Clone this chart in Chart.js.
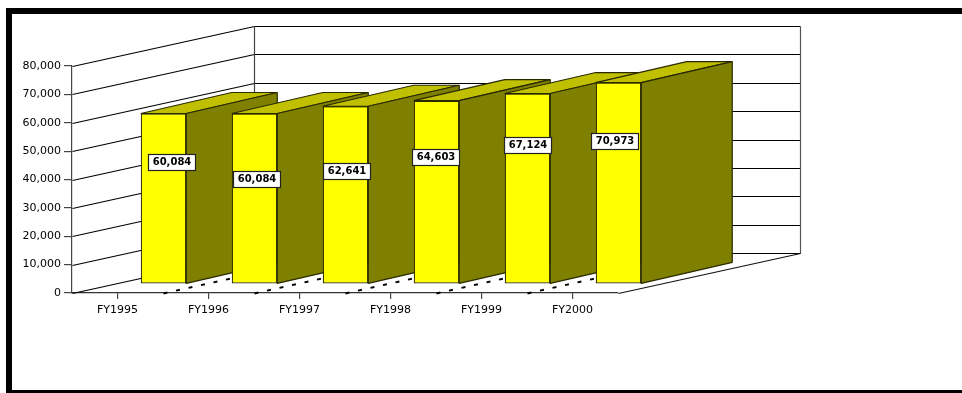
<!DOCTYPE html>
<html>
<head>
<meta charset="utf-8">
<style>html,body{margin:0;padding:0;background:#fff}canvas{display:block}</style>
<script src="https://cdn.jsdelivr.net/npm/chart.js@4/dist/chart.umd.min.js"></script>
</head>
<body>
<canvas id="chart" width="962" height="393"></canvas>
<script>
// Budget totals by fiscal year
const fiscalYears = ['FY1995', 'FY1996', 'FY1997', 'FY1998', 'FY1999', 'FY2000'];
const totals = [60084, 60084, 62641, 64603, 67124, 70973];
const axisTicks = [0, 10000, 20000, 30000, 40000, 50000, 60000, 70000, 80000];

// Oblique projection: how far the floor recedes, and where a bar sits on it
const FLOOR_DX = 182, FLOOR_DY = -40;
const BAR_DX = 46, BAR_DY = -9;
const BAR_DEPTH_DX = 91, BAR_DEPTH_DY = -21;
// Callout boxes relative to the top-centre of each bar's front face
const calloutOffsets = [[7.5, 48.5], [2, 65.5], [1, 64.7], [-1, 56.3], [-0.5, 51.4], [-4, 58.5]];

const EDGE = '#2a2a00';

function poly(ctx, pts, fill, stroke) {
  ctx.beginPath();
  pts.forEach((p, i) => i ? ctx.lineTo(p[0], p[1]) : ctx.moveTo(p[0], p[1]));
  ctx.closePath();
  if (fill) { ctx.fillStyle = fill; ctx.fill(); }
  if (stroke) { ctx.strokeStyle = stroke; ctx.lineWidth = 1.2; ctx.lineJoin = 'bevel'; ctx.stroke(); }
}
function line(ctx, x1, y1, x2, y2, color) {
  ctx.beginPath();
  ctx.moveTo(x1 + .5, y1 + .5);
  ctx.lineTo(x2 + .5, y2 + .5);
  ctx.strokeStyle = color;
  ctx.lineWidth = 1.2;
  ctx.stroke();
}

const frame = {
  id: 'frame',
  beforeDraw(chart) {
    const c = chart.ctx;
    c.save();
    c.fillStyle = '#fff';
    c.fillRect(0, 0, chart.width, chart.height);
    c.fillStyle = '#000';
    c.fillRect(6, 8, chart.width - 6, 6);
    c.fillRect(6, 8, 6, chart.height - 8);
    c.fillRect(6, 390, chart.width - 6, 3);
    c.restore();
  }
};

const room = {
  id: 'room',
  beforeDatasetsDraw(chart) {
    const c = chart.ctx, y = chart.scales.y, a = chart.chartArea;
    const bx = a.left + FLOOR_DX, ex = a.right + FLOOR_DX;
    c.save();
    axisTicks.forEach(v => {
      const py = Math.round(y.getPixelForValue(v));
      line(c, a.left, py, bx, py + FLOOR_DY, '#000');
      line(c, bx, py + FLOOR_DY, ex, py + FLOOR_DY, '#000');
    });
    const top = Math.round(y.getPixelForValue(80000)) + FLOOR_DY;
    const bottom = Math.round(y.getPixelForValue(0)) + FLOOR_DY;
    line(c, bx, top, bx, bottom, '#444');
    line(c, ex, top, ex, bottom, '#555');
    const fy = Math.round(a.bottom);
    line(c, a.right, fy, ex, fy + FLOOR_DY, '#111');
    c.restore();
  }
};

const blocks = {
  id: 'blocks',
  beforeDatasetDraw(chart, args) {
    const c = chart.ctx, meta = args.meta;
    // Floor shadows run underneath, so they go down before any bar
    c.save();
    c.setLineDash([4, 8.8]);
    c.lineWidth = 2;
    c.strokeStyle = '#000';
    meta.data.slice(0, -1).forEach(b => {
      const x0 = b.x + BAR_DX, y0 = b.base + 1;
      c.beginPath();
      c.moveTo(x0, y0);
      c.lineTo(x0 + 68, y0 - 15);
      c.stroke();
    });
    c.restore();
    meta.data.forEach(b => {
      const l = b.x - b.width / 2, r = b.x + b.width / 2;
      c.save();
      c.translate(BAR_DX, BAR_DY);
      poly(c, [[l, b.y], [r, b.y], [r + BAR_DEPTH_DX, b.y + BAR_DEPTH_DY], [l + BAR_DEPTH_DX, b.y + BAR_DEPTH_DY]], '#c0c000', EDGE);
      poly(c, [[r, b.y], [r + BAR_DEPTH_DX, b.y + BAR_DEPTH_DY], [r + BAR_DEPTH_DX, b.base + BAR_DEPTH_DY], [r, b.base]], '#808000', EDGE);
      b.draw(c);
      c.restore();
    });
    return false;
  },
  afterDatasetsDraw(chart) {
    const c = chart.ctx, meta = chart.getDatasetMeta(0);
    c.save();
    c.font = 'bold 10px "DejaVu Sans"';
    c.textAlign = 'center';
    c.textBaseline = 'middle';
    meta.data.forEach((b, i) => {
      const cx = b.x + BAR_DX + calloutOffsets[i][0];
      const cy = b.y + BAR_DY + calloutOffsets[i][1];
      const bx = Math.round(cx - 23.5), by = Math.round(cy - 8);
      c.fillStyle = '#fff';
      c.fillRect(bx, by, 47, 16);
      c.strokeStyle = '#222';
      c.lineWidth = 1.2;
      c.strokeRect(bx + .5, by + .5, 47, 16);
      c.fillStyle = '#000';
      c.fillText(totals[i].toLocaleString('en-US'), bx + 24, by + 8.5);
    });
    c.restore();
  }
};

new Chart(document.getElementById('chart'), {
  type: 'bar',
  data: {
    labels: fiscalYears,
    datasets: [{
      data: totals,
      backgroundColor: '#ffff00',
      borderColor: EDGE,
      borderWidth: 1.2,
      borderSkipped: false,
      barPercentage: 0.5,
      categoryPercentage: 1
    }]
  },
  plugins: [frame, room, blocks],
  options: {
    responsive: false,
    animation: false,
    devicePixelRatio: 1,
    layout: { padding: { left: 0, right: 344, top: 66, bottom: 0 } },
    plugins: { legend: { display: false }, tooltip: { enabled: false } },
    scales: {
      x: {
        afterFit(s) { s.height = 100; },
        grid: { offset: false, drawOnChartArea: false, drawTicks: true, tickLength: 6, tickColor: '#444', lineWidth: 1.2 },
        border: { color: '#333', width: 1.2 },
        ticks: { padding: 5, maxRotation: 0, color: '#000', font: { family: 'DejaVu Sans', size: 11 } }
      },
      y: {
        min: 0,
        max: 80000,
        afterFit(s) { s.width = 72; },
        grid: { drawOnChartArea: false, drawTicks: true, tickLength: 8, tickColor: '#444', lineWidth: 1.2 },
        border: { color: '#444', width: 1.2 },
        ticks: {
          stepSize: 10000,
          padding: 3,
          color: '#000',
          font: { family: 'DejaVu Sans', size: 11 },
          callback: v => v.toLocaleString('en-US')
        }
      }
    }
  }
});
</script>
</body>
</html>
